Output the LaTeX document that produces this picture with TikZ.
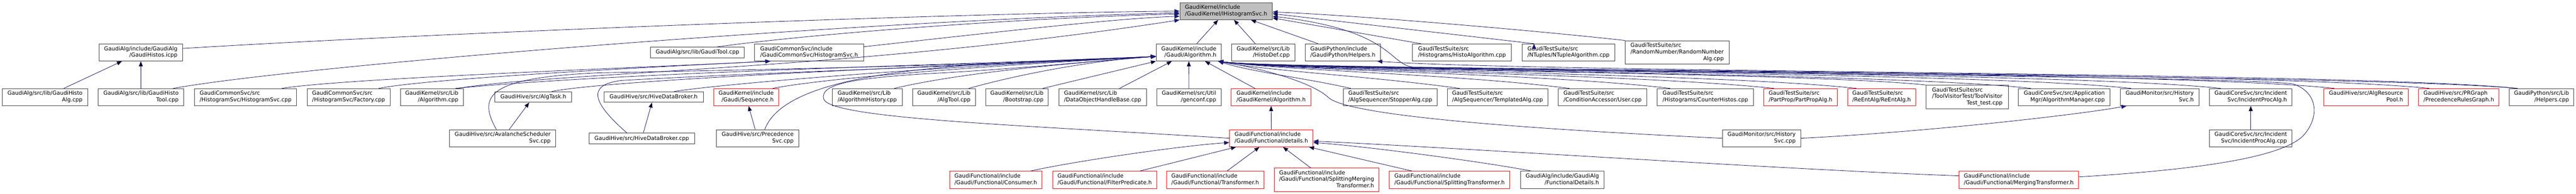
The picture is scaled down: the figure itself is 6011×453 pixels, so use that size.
\documentclass[tikz,border=0pt]{standalone}
\usepackage{fontspec}
\setmainfont{DejaVu Sans}
\usetikzlibrary{arrows.meta}
\definecolor{edgeblue}{HTML}{191970}
\definecolor{boxline}{HTML}{404040}
\definecolor{cutred}{HTML}{FF0000}
\definecolor{rootfill}{HTML}{BFBFBF}
\newcommand{\px}{0.75pt}
\newcommand{\flabel}[2]{\begin{tabular}{@{}l@{}}#1\\\hfill#2\hfill\end{tabular}}
\begin{document}
\begin{tikzpicture}[x=0.75pt,y=0.75pt,
  file/.style={draw=boxline,line width=0.75pt,inner sep=0pt,minimum height=40*\px,font=\fontsize{9.6}{11.5}\selectfont},
  cut/.style={file,draw=cutred},
  one/.style={minimum height=25*\px},
  three/.style={minimum height=55*\px},
  dep/.style={draw=edgeblue,line width=0.75pt,-{Triangle[length=9pt,width=7pt]}}]
\useasboundingbox (0,0) rectangle (6011,453);

\node[file,fill=rootfill,minimum width=216*\px] (ihsvc) at (2861,427) {\flabel{GaudiKernel/include}{/GaudiKernel/IHistogramSvc.h}};

\node[file,minimum width=195*\px] (histos) at (328.5,330.5) {\flabel{GaudiAlg/include/GaudiAlg}{/GaudiHistos.icpp}};
\node[file,one,minimum width=219*\px] (gtoolcpp) at (1627.5,330.5) {GaudiAlg/src/lib/GaudiTool.cpp};
\node[file,minimum width=254*\px] (hsvch) at (1888,330.5) {\flabel{GaudiCommonSvc/include}{/GaudiCommonSvc/HistogramSvc.h}};
\node[file,minimum width=152*\px] (galgh) at (2774,330.5) {\flabel{GaudiKernel/include}{/Gaudi/Algorithm.h}};
\node[file,minimum width=147*\px] (histodef) at (2947.5,330.5) {\flabel{GaudiKernel/src/Lib}{/HistoDef.cpp}};
\node[file,minimum width=175*\px] (pyhelpersh) at (3133.5,330.5) {\flabel{GaudiPython/include}{/GaudiPython/Helpers.h}};
\node[file,minimum width=231*\px] (histoalg) at (3411.5,330.5) {\flabel{GaudiTestSuite/src}{/Histograms/HistoAlgorithm.cpp}};
\node[file,minimum width=216*\px] (ntuplealg) at (3660,330.5) {\flabel{GaudiTestSuite/src}{/NTuples/NTupleAlgorithm.cpp}};
\node[file,three,minimum width=243*\px] (randalg) at (3913.5,330.5) {\flabel{GaudiTestSuite/src\\/RandomNumber/RandomNumber}{Alg.cpp}};

\node[file,minimum width=200*\px] (histoalgcpp) at (105,226) {\flabel{GaudiAlg/src/lib/GaudiHisto}{Alg.cpp}};
\node[file,minimum width=200*\px] (histotoolcpp) at (329,226) {\flabel{GaudiAlg/src/lib/GaudiHisto}{Tool.cpp}};
\node[file,minimum width=238*\px] (hsvccpp) at (573,226) {\flabel{GaudiCommonSvc/src}{/HistogramSvc/HistogramSvc.cpp}};
\node[file,minimum width=193*\px] (factory) at (813.5,226) {\flabel{GaudiCommonSvc/src}{/HistogramSvc/Factory.cpp}};
\node[file,minimum width=147*\px] (algcpp) at (1007.5,226) {\flabel{GaudiKernel/src/Lib}{/Algorithm.cpp}};
\node[file,one,minimum width=179*\px] (algtask) at (1244.5,226.5) {GaudiHive/src/AlgTask.h};
\node[file,one,minimum width=232*\px] (hdbh) at (1525,226.5) {GaudiHive/src/HiveDataBroker.h};
\node[cut,minimum width=152*\px] (sequence) at (1741,226) {\flabel{GaudiKernel/include}{/Gaudi/Sequence.h}};
\node[file,minimum width=163*\px] (alghist) at (2023.5,226) {\flabel{GaudiKernel/src/Lib}{/AlgorithmHistory.cpp}};
\node[file,minimum width=147*\px] (algtool) at (2202.5,226) {\flabel{GaudiKernel/src/Lib}{/AlgTool.cpp}};
\node[file,minimum width=146*\px] (bootstrap) at (2373,226) {\flabel{GaudiKernel/src/Lib}{/Bootstrap.cpp}};
\node[file,minimum width=204*\px] (dohb) at (2573,226) {\flabel{GaudiKernel/src/Lib}{/DataObjectHandleBase.cpp}};
\node[file,minimum width=151*\px] (genconf) at (2774.5,226) {\flabel{GaudiKernel/src/Util}{/genconf.cpp}};
\node[cut,minimum width=186*\px] (gkalgh) at (2966,226) {\flabel{GaudiKernel/include}{/GaudiKernel/Algorithm.h}};
\node[file,minimum width=218*\px] (stopper) at (3244,226) {\flabel{GaudiTestSuite/src}{/AlgSequencer/StopperAlg.cpp}};
\node[file,minimum width=235*\px] (templated) at (3494.5,226) {\flabel{GaudiTestSuite/src}{/AlgSequencer/TemplatedAlg.cpp}};
\node[file,minimum width=207*\px] (user) at (3739.5,226) {\flabel{GaudiTestSuite/src}{/ConditionAccessor/User.cpp}};
\node[file,minimum width=225*\px] (counter) at (3979.5,226) {\flabel{GaudiTestSuite/src}{/Histograms/CounterHistos.cpp}};
\node[cut,minimum width=171*\px] (partprop) at (4201.5,226) {\flabel{GaudiTestSuite/src}{/PartProp/PartPropAlg.h}};
\node[cut,minimum width=159*\px] (reent) at (4390.5,226) {\flabel{GaudiTestSuite/src}{/ReEntAlg/ReEntAlg.h}};
\node[file,three,minimum width=193*\px] (toolvisit) at (4590.5,226.5) {\flabel{GaudiTestSuite/src\\/ToolVisitorTest/ToolVisitor}{Test\_test.cpp}};
\node[file,minimum width=214*\px] (algmgr) at (4817,226) {\flabel{GaudiCoreSvc/src/Application}{Mgr/AlgorithmManager.cpp}};
\node[file,minimum width=183*\px] (histsvch) at (5039.5,226) {\flabel{GaudiMonitor/src/History}{Svc.h}};
\node[file,minimum width=192*\px] (incalgh) at (5252,226) {\flabel{GaudiCoreSvc/src/Incident}{Svc/IncidentProcAlg.h}};
\node[cut,minimum width=198*\px] (respool) at (5521,226) {\flabel{GaudiHive/src/AlgResource}{Pool.h}};
\node[cut,minimum width=187*\px] (prgraph) at (5737.5,226) {\flabel{GaudiHive/src/PRGraph}{/PrecedenceRulesGraph.h}};
\node[file,minimum width=151*\px] (pyhelperscpp) at (5930.5,226) {\flabel{GaudiPython/src/Lib}{/Helpers.cpp}};

\node[file,minimum width=248*\px] (avalanche) at (1173,130) {\flabel{GaudiHive/src/AvalancheScheduler}{Svc.cpp}};
\node[file,one,minimum width=247*\px] (hdbcpp) at (1497.5,129.5) {GaudiHive/src/HiveDataBroker.cpp};
\node[file,minimum width=192*\px] (precsvc) at (1768,130) {\flabel{GaudiHive/src/Precedence}{Svc.cpp}};
\node[cut,minimum width=195*\px] (details) at (2966.5,130) {\flabel{GaudiFunctional/include}{/Gaudi/Functional/details.h}};
\node[file,minimum width=183*\px] (histsvccpp) at (4110.5,130) {\flabel{GaudiMonitor/src/History}{Svc.cpp}};
\node[file,minimum width=192*\px] (incalgcpp) at (5252,130) {\flabel{GaudiCoreSvc/src/Incident}{Svc/IncidentProcAlg.cpp}};

\node[cut,minimum width=215*\px] (consumer) at (2323.5,33) {\flabel{GaudiFunctional/include}{/Gaudi/Functional/Consumer.h}};
\node[cut,minimum width=243*\px] (filterpred) at (2577.5,33) {\flabel{GaudiFunctional/include}{/Gaudi/Functional/FilterPredicate.h}};
\node[cut,minimum width=227*\px] (transformer) at (2835.5,33) {\flabel{GaudiFunctional/include}{/Gaudi/Functional/Transformer.h}};
\node[cut,three,minimum width=245*\px] (splitmerge) at (3095.5,33) {\flabel{GaudiFunctional/include\\/Gaudi/Functional/SplittingMerging}{Transformer.h}};
\node[cut,minimum width=281*\px] (splittrans) at (3382.5,33) {\flabel{GaudiFunctional/include}{/Gaudi/Functional/SplittingTransformer.h}};
\node[file,minimum width=195*\px] (fundetails) at (3645.5,33) {\flabel{GaudiAlg/include/GaudiAlg}{/FunctionalDetails.h}};
\node[cut,minimum width=279*\px] (mergetrans) at (4710.5,33) {\flabel{GaudiFunctional/include}{/Gaudi/Functional/MergingTransformer.h}};

\coordinate (galgh-l) at ([yshift=-7pt]galgh.west);
\coordinate (galgh-r) at ([xshift=-6pt]galgh.south east);

\path[dep]
(histoalgcpp) edge (histos)
(histotoolcpp) edge (histos)
(galgh) edge (ihsvc)
(histodef) edge (ihsvc)
(pyhelpersh) edge (ihsvc)
(gkalgh) edge (galgh)
(dohb) edge (galgh)
(genconf) edge (galgh)
(avalanche) edge (algtask)
(hdbcpp) edge (hdbh)
(precsvc) edge (sequence)
(incalgcpp) edge (incalgh)
(details) edge (gkalgh)
(filterpred) edge (details)
(transformer) edge (details)
(splitmerge) edge (details)
(splittrans) edge (details)
([xshift=-10pt]bootstrap.north east) edge (galgh.south west)
([xshift=15pt]histoalg.north west) edge ([yshift=-12pt]ihsvc.east)
([xshift=21pt]ntuplealg.north west) edge ([yshift=-4.5pt]ihsvc.east);

\draw[dep] ([yshift=7pt]histos.east) .. controls (1000,375) and (2200,422) .. (ihsvc.west);
\draw[dep] ([xshift=-19pt]histotoolcpp.north east) .. controls (700,300) and (2000,405) .. ([yshift=-3pt]ihsvc.west);
\draw[dep] ([xshift=-48pt]gtoolcpp.north east) .. controls (1900,375) and (2400,412) .. ([yshift=-5pt]ihsvc.west);
\draw[dep] ([yshift=10pt]hsvch.east) .. controls (2300,375) and (2600,410) .. ([yshift=-9pt]ihsvc.west);
\draw[dep] ([xshift=-10pt]algcpp.north east) .. controls (1300,285) and (2000,290) .. (ihsvc.south west);
\draw[dep] (randalg.north west) .. controls (3550,385) and (3150,418) .. ([yshift=-1.5pt]ihsvc.east);
\draw[dep] ([xshift=15pt]pyhelperscpp.north west) .. controls (5500,280) and (3500,285) .. (3300,296) .. controls (3240,300) and (3255,382) .. ([yshift=-9pt]ihsvc.east);

\draw[dep] ([xshift=-26pt]hsvccpp.north east) .. controls (800,270) and (1500,295) .. ([xshift=28pt]hsvch.south west);
\draw[dep] ([xshift=-20pt]factory.north east) .. controls (1000,270) and (1550,298) .. ([xshift=28pt]hsvch.south west);

\draw[dep] ([xshift=-14pt]algcpp.north east) .. controls (1467,286) and (2298,303) .. (galgh-l);
\draw[dep] ([xshift=-35pt]algtask.north east) .. controls (1450,270) and (2300,303) .. (galgh-l);
\draw[dep] ([xshift=-11pt]avalanche.north) .. controls (1110,235) and (1150,272) .. (1400,283) .. controls (1900,292) and (2400,305) .. (galgh-l);
\draw[dep] ([xshift=-51pt]hdbh.north east) .. controls (1750,265) and (2300,303) .. (galgh-l);
\draw[dep] ([xshift=-26pt]hdbcpp.north) .. controls (1380,215) and (1370,255) .. (1450,265) .. controls (1800,285) and (2400,303) .. (galgh-l);
\draw[dep] ([xshift=-11pt]sequence.north east) .. controls (1950,275) and (2400,305) .. (galgh-l);
\draw[dep] ([xshift=-60pt]precsvc.north east) .. controls (1840,300) and (2300,305) .. (galgh-l);
\draw[dep] ([xshift=-14pt]alghist.north east) .. controls (2250,285) and (2500,305) .. (galgh-l);
\draw[dep] ([xshift=-12pt]algtool.north east) .. controls (2380,280) and (2550,312) .. (galgh-l);
\draw[dep] (details.west) .. controls (2400,160) and (1935,175) .. (1922,222) .. controls (1912,258) and (2000,270) .. (2150,280) .. controls (2400,293) and (2600,315) .. (galgh-l);

\draw[dep] ([xshift=13pt]stopper.north west) .. controls (3050,270) and (2920,285) .. (galgh-r);
\draw[dep] ([xshift=22pt]templated.north west) .. controls (3200,275) and (2950,288) .. (galgh-r);
\draw[dep] ([xshift=20pt]user.north west) .. controls (3400,280) and (3000,288) .. (galgh-r);
\draw[dep] ([xshift=23pt]counter.north west) .. controls (3600,282) and (3000,288) .. (galgh-r);
\draw[dep] ([xshift=18pt]partprop.north west) .. controls (3800,282) and (3000,288) .. (galgh-r);
\draw[dep] ([xshift=16pt]reent.north west) .. controls (4000,283) and (3000,288) .. (galgh-r);
\draw[dep] (toolvisit.north west) .. controls (4200,285) and (3000,288) .. (galgh-r);
\draw[dep] ([xshift=22pt]algmgr.north west) .. controls (4400,285) and (3000,288) .. (galgh-r);
\draw[dep] ([xshift=19pt]histsvch.north west) .. controls (4600,287) and (3000,288) .. (galgh-r);
\draw[dep] ([xshift=20pt]incalgh.north west) .. controls (4800,288) and (3000,288) .. (galgh-r);
\draw[dep] ([xshift=19pt]respool.north west) .. controls (5050,290) and (3000,288) .. (galgh-r);
\draw[dep] ([xshift=19pt]prgraph.north west) .. controls (5250,290) and (3000,288) .. (galgh-r);
\draw[dep] (histsvccpp.west) .. controls (3600,150) and (3150,180) .. (3100,225) .. controls (3065,258) and (2960,290) .. (galgh-r);
\draw[dep] ([yshift=5pt]mergetrans.east) .. controls (5150,58) and (5335,88) .. (5378,140) .. controls (5415,185) and (5405,240) .. (5350,257) .. controls (5200,278) and (3000,288) .. (galgh-r);
\draw[dep] ([xshift=15pt]pyhelperscpp.north west) .. controls (5500,285) and (3600,283) .. ([xshift=-6pt]pyhelpersh.south east);

\draw[dep] ([xshift=-20pt]consumer.north east) .. controls (2500,75) and (2750,112) .. ([yshift=-7.5pt]details.west);
\draw[dep] ([xshift=19pt]fundetails.north west) .. controls (3480,72) and (3200,110) .. ([yshift=-7.5pt]details.east);
\draw[dep] ([yshift=7pt]mergetrans.west) .. controls (4200,55) and (3400,108) .. ([yshift=-5pt]details.east);
\draw[dep] (histsvccpp.east) .. controls (4500,145) and (4850,185) .. ([xshift=11pt]histsvch.south west);

\end{tikzpicture}
\end{document}
